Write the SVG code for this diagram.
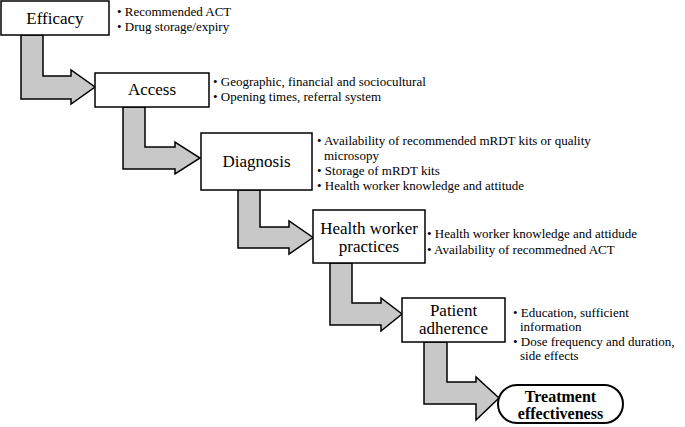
<svg xmlns="http://www.w3.org/2000/svg" width="685" height="427" viewBox="0 0 685 427">
<style>
.box{fill:#fff;stroke:#000;stroke-width:1.5}
.arr{fill:#c8c8c8;stroke:#000;stroke-width:1.5;stroke-linejoin:miter}
.t{font-family:"Liberation Serif","Times New Roman",serif;font-size:17px;fill:#000;text-anchor:middle}
.b{font-family:"Liberation Serif","Times New Roman",serif;font-size:13px;fill:#000}
.tb{font-family:"Liberation Serif","Times New Roman",serif;font-size:16px;font-weight:bold;fill:#000;text-anchor:middle}
</style>
<rect width="685" height="427" fill="#fff"/>
<g id="connectors">
<polygon class="arr" points="21,35 43,35 43,76 71,76 71,70 95,87 71,104 71,99 21,99"/>
<polygon class="arr" points="123,107 145,107 145,147 175,147 175,142 200,158 175,174 175,169 123,169"/>
<polygon class="arr" points="238,190 260,190 260,227 289,227 289,221 313,237.5 289,254 289,248 238,248"/>
<polygon class="arr" points="330,263 352,263 352,303 381,303 381,298 402,314 381,331 381,325 330,325"/>
<polygon class="arr" points="424,342 447,342 447,382 476,382 476,377 499,398 476,420 476,404 424,404"/>
</g>
<g id="efficacy">
<rect class="box" x="1" y="1" width="108" height="34"/>
<text class="t" x="55" y="24">Efficacy</text>
<text class="b" x="117" y="16">• Recommended ACT</text>
<text class="b" x="117" y="31">• Drug storage/expiry</text>
</g>
<g id="access">
<rect class="box" x="95" y="73" width="114" height="34"/>
<text class="t" x="152" y="95">Access</text>
<text class="b" x="213" y="86">• Geographic, financial and sociocultural</text>
<text class="b" x="213" y="100.5">• Opening times, referral system</text>
</g>
<g id="diagnosis">
<rect class="box" x="201" y="133" width="111" height="57"/>
<text class="t" x="256.5" y="167">Diagnosis</text>
<text class="b" x="317" y="145">• Availability of recommended mRDT kits or quality</text>
<text class="b" x="324" y="159.5">microsopy</text>
<text class="b" x="317" y="174.5">• Storage of mRDT kits</text>
<text class="b" x="317" y="190">• Health worker knowledge and attitude</text>
</g>
<g id="hw-practices">
<rect class="box" x="313" y="210" width="112" height="53"/>
<text class="t" x="369" y="234">Health worker</text>
<text class="t" x="369" y="252">practices</text>
<text class="b" x="427" y="238">• Health worker knowledge and attidude</text>
<text class="b" x="427" y="254">• Availability of recommedned ACT</text>
</g>
<g id="patient-adherence">
<rect class="box" x="402" y="298" width="103" height="44"/>
<text class="t" x="453.5" y="316">Patient</text>
<text class="t" x="453.5" y="334">adherence</text>
<text class="b" x="513" y="316.5">• Education, sufficient</text>
<text class="b" x="520" y="331">information</text>
<text class="b" x="513" y="345.5">• Dose frequency and duration,</text>
<text class="b" x="520" y="360">side effects</text>
</g>
<g id="treatment-effectiveness">
<rect x="498" y="385" width="125" height="38" rx="19" ry="19" fill="#fff" stroke="#000" stroke-width="2"/>
<text class="tb" x="560.5" y="401.5">Treatment</text>
<text class="tb" x="560.5" y="418.5">effectiveness</text>
</g>
</svg>
